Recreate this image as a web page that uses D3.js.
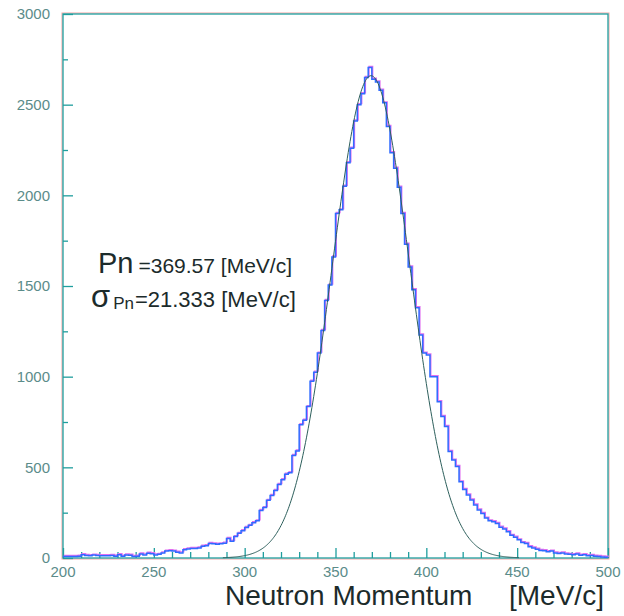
<!DOCTYPE html>
<html>
<head>
<meta charset="utf-8">
<script src="https://cdn.jsdelivr.net/npm/d3@7"></script>
<style>
  body { margin: 0; background: #fff; }
  svg text { font-family: "Liberation Sans", Arial, sans-serif; }
</style>
</head>
<body>
<div id="chart"></div>
<script>
// histogram: 150 bins of 2 MeV/c from 200 to 500
var binStart = 200;
var binWidth = 2;
var binCounts = [
  8, 8, 8, 8, 10, 18, 14, 12, 16, 14,
  12, 12, 12, 14, 10, 18, 10, 17, 15, 8,
  10, 22, 17, 26, 24, 17, 20, 28, 38, 40,
  38, 32, 28, 46, 50, 53, 52, 55, 65, 68,
  80, 78, 76, 78, 82, 108, 92, 118, 136, 150,
  168, 180, 195, 205, 262, 278, 318, 345, 372, 405,
  432, 462, 470, 565, 590, 735, 760, 835, 975, 1025,
  1130, 1255, 1420, 1505, 1660, 1900, 1920, 2050, 2180, 2260,
  2410, 2500, 2560, 2650, 2705, 2640, 2625, 2580, 2510, 2380,
  2235, 2150, 2045, 1900, 1730, 1605, 1480, 1380, 1230, 1130,
  1120, 1000, 1000, 862, 780, 725, 588, 540, 505, 420,
  378, 348, 320, 292, 265, 246, 220, 205, 200, 190,
  170, 160, 145, 125, 115, 100, 85, 80, 62, 55,
  48, 42, 40, 35, 38, 28, 25, 28, 22, 20,
  18, 22, 15, 18, 12, 14, 10, 8, 6, 4
];

// gaussian fit parameters
var fitMean = 369.57;
var fitSigma = 21.333;
var fitAmplitude = 2660;
var fitRange = [288, 451];

var xMajorTicks = [200, 250, 300, 350, 400, 450, 500];
var yMajorTicks = [0, 500, 1000, 1500, 2000, 2500, 3000];

var width = 624;
var height = 616;
var frame = { left: 63, right: 608, top: 14, bottom: 558 };

var axisColor = "#1f9e9e";
var fringeColor = "#f3a3a3";
var labelColor = "#5b8c8a";

var svg = d3.select("#chart").append("svg")
  .attr("width", width)
  .attr("height", height);

var x = d3.scaleLinear().domain([200, 500]).range([frame.left, frame.right]);
var y = d3.scaleLinear().domain([0, 3000]).range([frame.bottom, frame.top]);

// frame, with the pink colour fringe of the scan
svg.append("rect")
  .attr("x", frame.left - 1).attr("y", frame.top - 1)
  .attr("width", frame.right - frame.left + 2).attr("height", frame.bottom - frame.top + 2)
  .style("fill", "none").style("stroke", fringeColor).style("stroke-width", 1);
svg.append("rect")
  .attr("x", frame.left).attr("y", frame.top)
  .attr("width", frame.right - frame.left).attr("height", frame.bottom - frame.top)
  .style("fill", "none").style("stroke", axisColor).style("stroke-width", 1.3);

// ticks pointing inwards
var yAxis = d3.axisRight(y)
  .tickValues(d3.range(0, 3001, 250))
  .tickSize(5)
  .tickFormat("");
var gy = svg.append("g").attr("transform", "translate(" + frame.left + ",0)").call(yAxis);
gy.select(".domain").remove();
gy.selectAll(".tick line")
  .attr("x2", function(d) { return d % 500 === 0 ? 10 : 5; })
  .style("stroke", axisColor).style("stroke-width", 1.3);

var xAxis = d3.axisTop(x)
  .tickValues(d3.range(200, 501, 10))
  .tickSize(5)
  .tickFormat("");
var gx = svg.append("g").attr("transform", "translate(0," + frame.bottom + ")").call(xAxis);
gx.select(".domain").remove();
gx.selectAll(".tick line")
  .attr("y2", function(d) { return d % 50 === 0 ? -10 : -6; })
  .style("stroke", axisColor).style("stroke-width", 1.3);

// tick labels
svg.append("g").selectAll("text")
  .data(yMajorTicks)
  .enter().append("text")
  .attr("x", 50)
  .attr("y", function(d) { return y(d); })
  .attr("dy", "0.36em")
  .attr("text-anchor", "end")
  .style("font-size", "15px")
  .style("fill", labelColor)
  .text(function(d) { return d; });

svg.append("g").selectAll("text")
  .data(xMajorTicks)
  .enter().append("text")
  .attr("x", function(d) { return x(d); })
  .attr("y", 577)
  .attr("text-anchor", "middle")
  .style("font-size", "15px")
  .style("fill", labelColor)
  .text(function(d) { return d; });

// histogram outline
var histPoints = binCounts.map(function(c, i) { return [binStart + i * binWidth, c]; });
histPoints.push([binStart + binCounts.length * binWidth, binCounts[binCounts.length - 1]]);

var stepLine = d3.line()
  .x(function(d) { return x(d[0]); })
  .y(function(d) { return y(d[1]); })
  .curve(d3.curveStepAfter);

svg.append("path")
  .attr("d", stepLine(histPoints))
  .attr("transform", "translate(0.8,-1)")
  .style("fill", "none").style("stroke", "#e070f0").style("stroke-width", 1.4);
svg.append("path")
  .attr("d", stepLine(histPoints))
  .style("fill", "none").style("stroke", "#2f6bff").style("stroke-width", 1.5);

// gaussian fit curve
var fitPoints = d3.range(fitRange[0], fitRange[1] + 0.01, 0.5).map(function(v) {
  var z = (v - fitMean) / fitSigma;
  return [v, fitAmplitude * Math.exp(-0.5 * z * z)];
});
var fitLine = d3.line()
  .x(function(d) { return x(d[0]); })
  .y(function(d) { return y(d[1]); })
  .curve(d3.curveBasis);
svg.append("path")
  .attr("d", fitLine(fitPoints))
  .style("fill", "none").style("stroke", "#2d5f5c").style("stroke-width", 1);

// fit results
var textColor = "#1c2b2b";
var line1 = svg.append("text").attr("x", 98).attr("y", 273).style("fill", textColor);
line1.append("tspan").style("font-size", "29px").text("Pn");
line1.append("tspan").attr("dx", 5).style("font-size", "21px").text("=369.57 [MeV/c]");

var line2 = svg.append("text").attr("x", 91).attr("y", 307).style("fill", textColor);
line2.append("tspan").style("font-size", "31px").text("σ");
line2.append("tspan").attr("dx", 3).attr("dy", 2).style("font-size", "17px").text("Pn");
line2.append("tspan").attr("dx", 1).attr("dy", -2).style("font-size", "22px").text("=21.333 [MeV/c]");

// axis title
svg.append("text")
  .attr("x", 225).attr("y", 605)
  .style("font-size", "28px").style("fill", textColor)
  .text("Neutron Momentum");
svg.append("text")
  .attr("x", 509).attr("y", 605)
  .style("font-size", "28px").style("fill", textColor)
  .text("[MeV/c]");
</script>
</body>
</html>
